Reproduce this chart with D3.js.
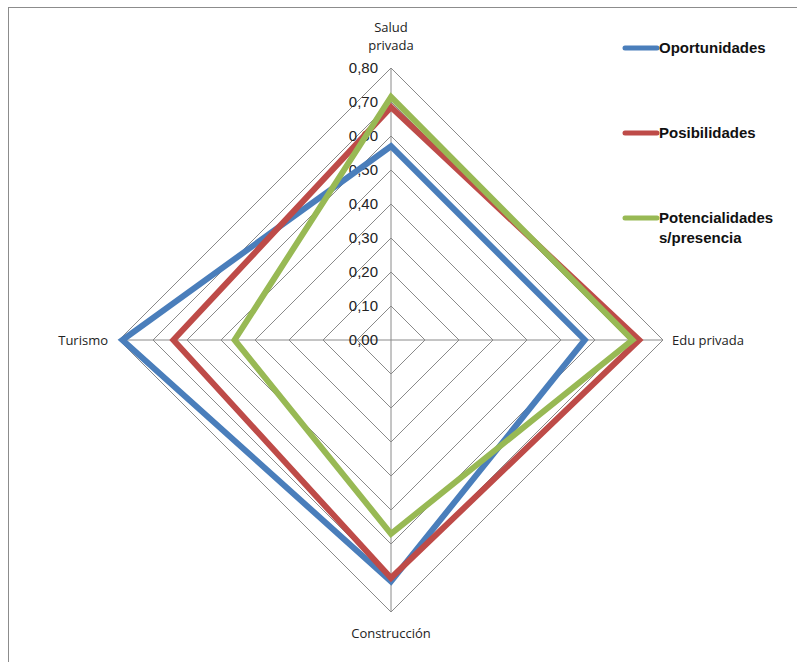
<!DOCTYPE html>
<html>
<head>
<meta charset="utf-8">
<script src="https://cdn.jsdelivr.net/npm/d3@7"></script>
<style>
  body { margin: 0; background: #fff; }
</style>
</head>
<body>
<div id="radar_chart"></div>
<script>
var axes = ["Salud privada", "Edu privada", "Construcción", "Turismo"];
var seriesNames = ["Oportunidades", "Posibilidades", "Potencialidades s/presencia"];
var oportunidades = [0.57, 0.57, 0.71, 0.79];
var posibilidades = [0.685, 0.73, 0.70, 0.64];
var potencialidades = [0.715, 0.71, 0.57, 0.46];
var tickValues = [0, 0.1, 0.2, 0.3, 0.4, 0.5, 0.6, 0.7, 0.8];
var colors = ["#4A7EBB", "#BE4B48", "#98B954"];

var width = 797, height = 662;
var cx = 391, cy = 340, radius = 272;

var svg = d3.select("#radar_chart")
    .append("svg")
    .attr("width", width)
    .attr("height", height);

// outer frame (only the top and left edges show)
svg.append("rect")
    .attr("x", 8.5).attr("y", 7.5)
    .attr("width", 820).attr("height", 700)
    .attr("fill", "none")
    .attr("stroke", "#8c8c8c")
    .attr("stroke-width", 1);

var r = d3.scaleLinear().domain([0, 0.8]).range([0, radius]);
var angle = d3.scaleBand().domain(axes).range([0, 2 * Math.PI]);

function pt(i, v) {
    var a = angle(axes[i]) - Math.PI / 2;
    return [cx + r(v) * Math.cos(a), cy + r(v) * Math.sin(a)];
}

var g = svg.append("g");

// grid polygons
tickValues.slice(1).forEach(function (t) {
    g.append("path")
        .attr("d", d3.line()(axes.map(function (d, i) { return pt(i, t); })) + "Z")
        .attr("fill", "none")
        .attr("stroke", "#8a8a8a")
        .attr("stroke-width", 1);
});

// spokes
axes.forEach(function (d, i) {
    var p = pt(i, 0.8);
    g.append("line")
        .attr("x1", cx).attr("y1", cy)
        .attr("x2", p[0]).attr("y2", p[1])
        .attr("stroke", "#8a8a8a")
        .attr("stroke-width", 1);
});

// tick labels
g.selectAll(".tick")
    .data(tickValues)
    .enter()
    .append("text")
    .attr("x", cx - 13)
    .attr("y", function (d) { return cy - r(d); })
    .attr("dy", "0.35em")
    .attr("text-anchor", "end")
    .attr("font-family", "Liberation Sans Narrow, Arial Narrow, sans-serif")
    .attr("font-size", 15)
    .attr("fill", "#222")
    .text(function (d) { return d3.format(".2f")(d).replace(".", ","); });

// series
var allSeries = [oportunidades, posibilidades, potencialidades];
allSeries.forEach(function (vals, s) {
    g.append("path")
        .attr("d", d3.line()(vals.map(function (v, i) { return pt(i, v); })) + "Z")
        .attr("fill", "none")
        .attr("stroke", colors[s])
        .attr("stroke-width", 6)
        .attr("stroke-linejoin", "miter");
});

// axis labels
var labelFont = "Open Sans, sans-serif";
function label(x, y, anchor, lines) {
    var t = svg.append("text")
        .attr("x", x).attr("y", y)
        .attr("text-anchor", anchor)
        .attr("font-family", labelFont)
        .attr("font-size", 13)
        .attr("fill", "#222");
    lines.forEach(function (l, k) {
        t.append("tspan").attr("x", x).attr("dy", k === 0 ? 0 : 18).text(l);
    });
}
label(cx, 32, "middle", ["Salud", "privada"]);
label(672, 345, "start", ["Edu privada"]);
label(cx, 638, "middle", ["Construcción"]);
label(108, 345, "end", ["Turismo"]);

// legend
var legendY = [48, 133, 218];
var legendLines = [["Oportunidades"], ["Posibilidades"], ["Potencialidades", "s/presencia"]];
seriesNames.forEach(function (name, s) {
    svg.append("line")
        .attr("x1", 625).attr("x2", 657)
        .attr("y1", legendY[s]).attr("y2", legendY[s])
        .attr("stroke", colors[s])
        .attr("stroke-width", 5)
        .attr("stroke-linecap", "round");
    var t = svg.append("text")
        .attr("x", 659).attr("y", legendY[s] + 5)
        .attr("font-family", "Liberation Sans Narrow, Arial Narrow, sans-serif")
        .attr("font-weight", "bold")
        .attr("font-size", 15)
        .attr("fill", "#111");
    legendLines[s].forEach(function (l, k) {
        t.append("tspan").attr("x", 659).attr("dy", k === 0 ? 0 : 20).text(l);
    });
});
</script>
</body>
</html>
